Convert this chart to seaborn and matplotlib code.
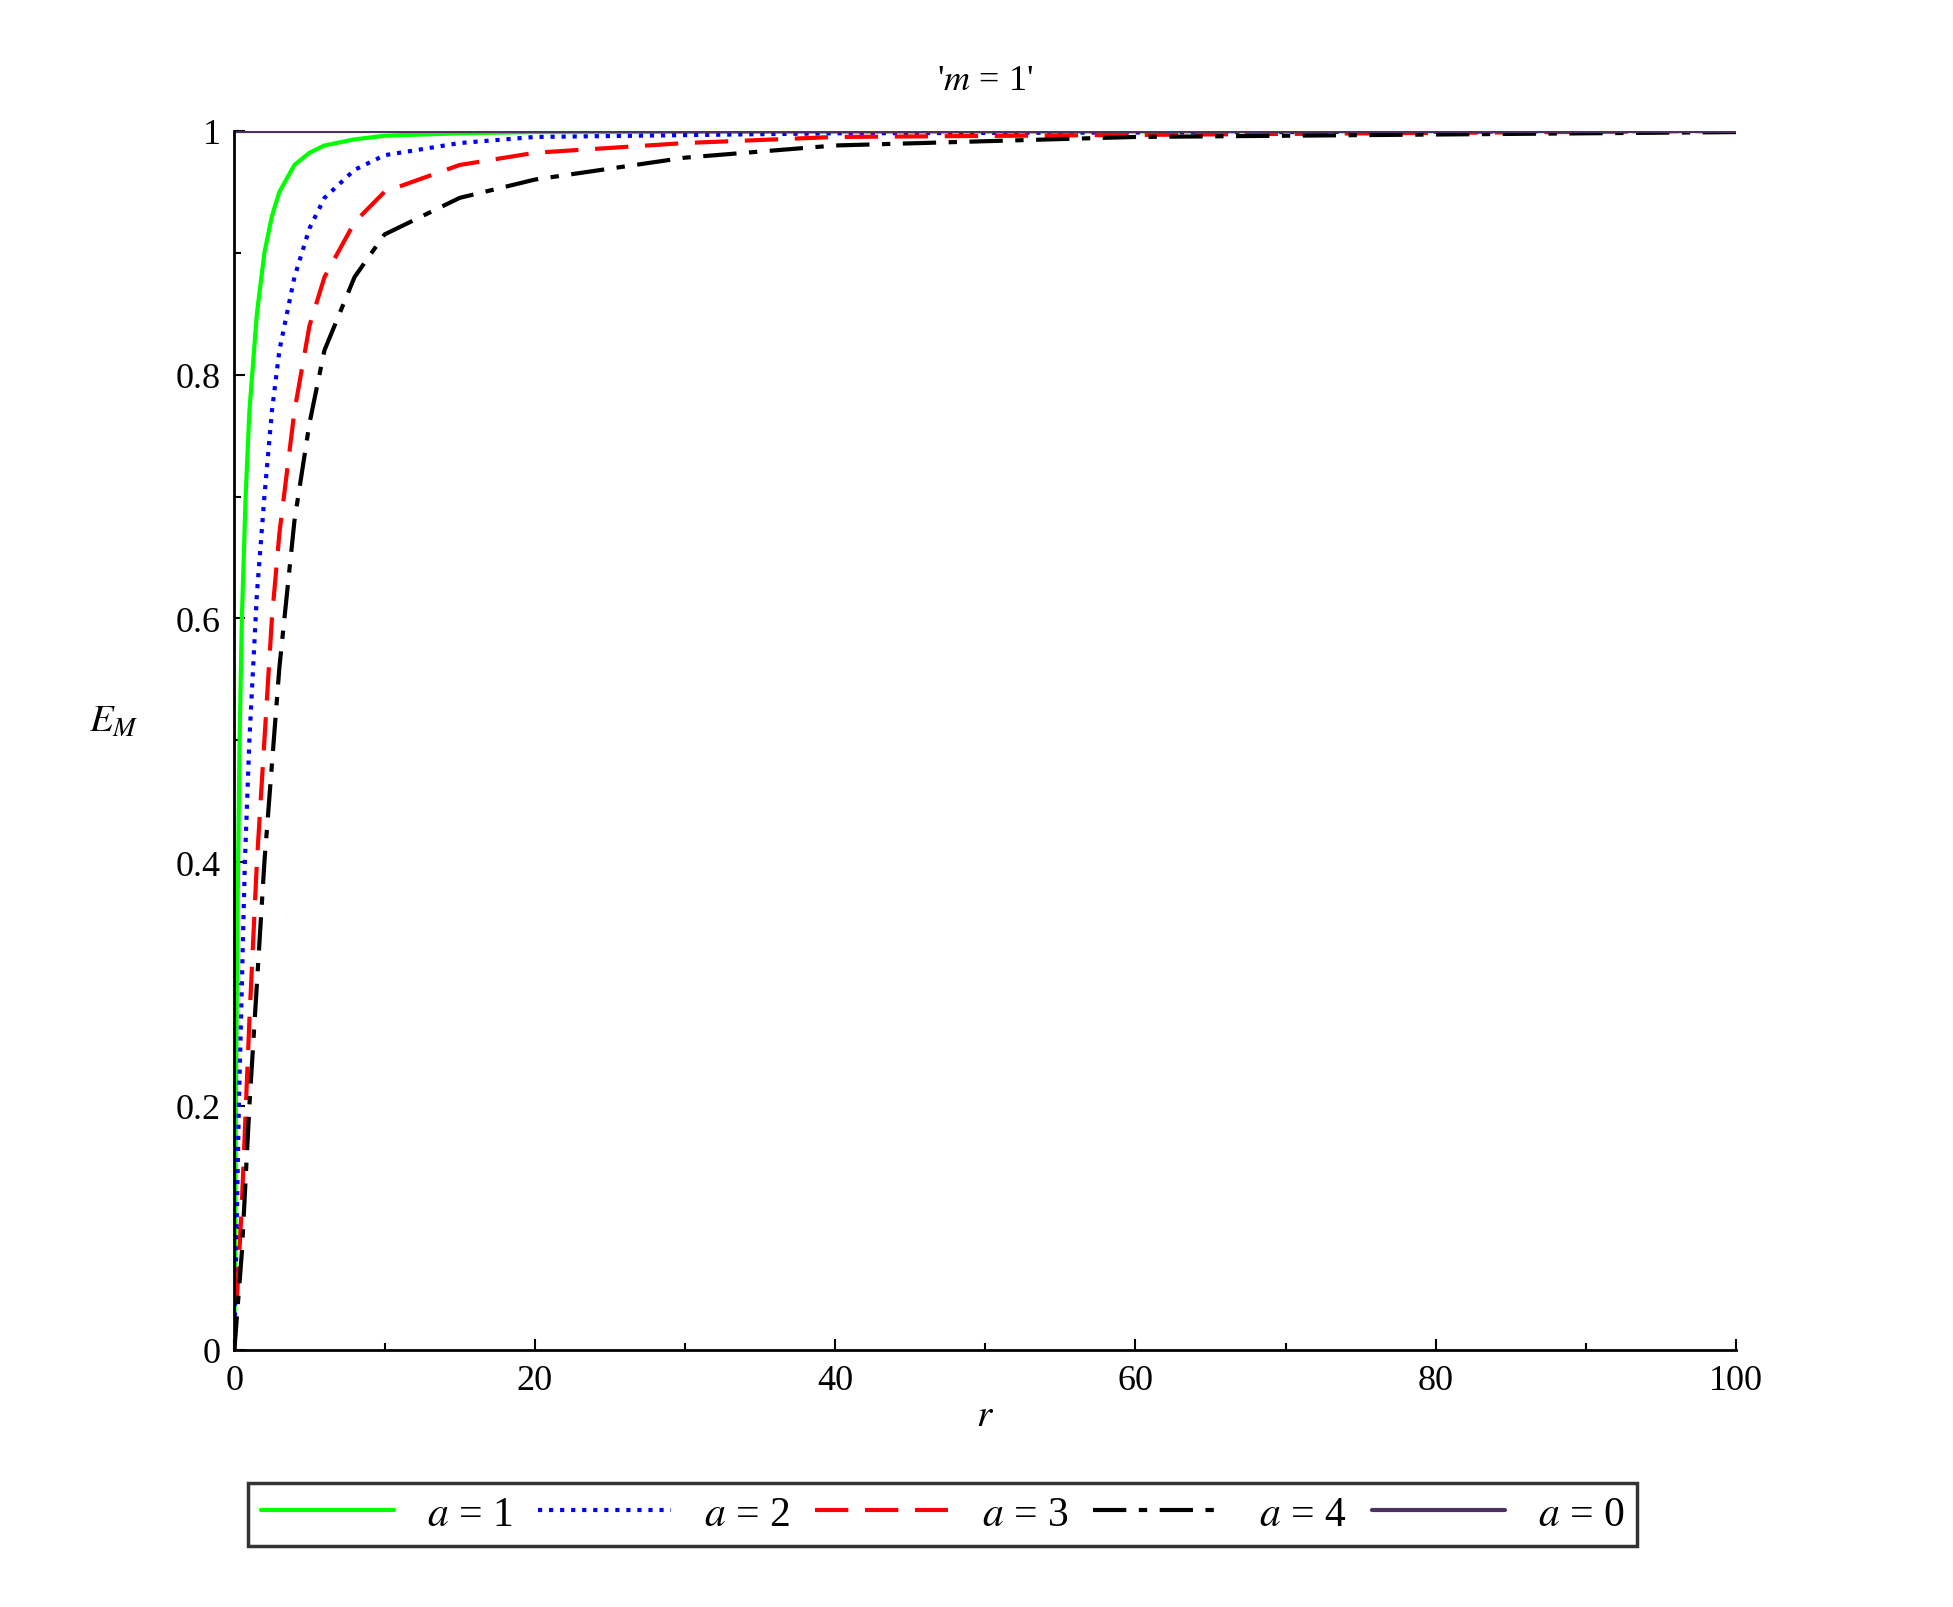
import numpy as np
import pandas as pd
import matplotlib
matplotlib.use("Agg")
import matplotlib.pyplot as plt
import seaborn as sns

# values
r_green = [0, 0.1, 0.2, 0.35, 0.5, 0.75, 1, 1.5, 2, 2.5, 3, 4, 5, 6, 8, 10, 15, 20, 100]
e_green = [0, 0.2, 0.35, 0.5, 0.6, 0.7, 0.77, 0.85, 0.9, 0.93, 0.95, 0.972, 0.982, 0.988, 0.993, 0.996, 0.998, 0.999, 1.0]
r_blue = [0, 0.3, 0.7, 1, 1.5, 2, 2.5, 3, 4, 5, 6, 8, 10, 15, 20, 40, 100]
e_blue = [0, 0.2, 0.4, 0.5, 0.62, 0.7, 0.77, 0.82, 0.88, 0.92, 0.945, 0.968, 0.98, 0.99, 0.995, 0.998, 1.0]
r_red = [0, 0.5, 1, 1.5, 2, 2.5, 3, 4, 5, 6, 8, 10, 15, 20, 30, 40, 100]
e_red = [0, 0.12, 0.27, 0.4, 0.5, 0.6, 0.67, 0.77, 0.84, 0.88, 0.925, 0.95, 0.972, 0.982, 0.99, 0.995, 1.0]
r_black = [0, 0.5, 1, 1.5, 2, 2.5, 3, 4, 5, 6, 8, 10, 15, 20, 30, 40, 60, 100]
e_black = [0, 0.08, 0.2, 0.3, 0.4, 0.48, 0.56, 0.68, 0.76, 0.82, 0.88, 0.915, 0.945, 0.96, 0.978, 0.988, 0.995, 0.999]
r_zero = [0, 100]
e_zero = [1.0, 1.0]

sns.set_style("ticks")
plt.rcParams["font.family"] = ["Liberation Serif", "DejaVu Serif"]
plt.rcParams["mathtext.fontset"] = "stix"

fig = plt.figure(figsize=(19.53, 16.08), dpi=100)
ax = fig.add_axes([0.12, 0.16, 0.769, 0.758])

series = [
    (r_green, e_green, "#00ff00", "-", "$a$ = 1"),
    (r_blue, e_blue, "#0000ff", ":", "$a$ = 2"),
    (r_red, e_red, "#ff0000", (0, (8, 4)), "$a$ = 3"),
    (r_black, e_black, "black", (0, (8, 3, 2, 3)), "$a$ = 4"),
    (r_zero, e_zero, "#4b3060", "-", "$a$ = 0"),
]
handles = []
for r, e, c, ls, lab in series:
    df = pd.DataFrame({"r": r, "E": e})
    sns.lineplot(data=df, x="r", y="E", ax=ax, color=c, linewidth=3,
                 linestyle=ls, legend=False)
    handles.append(ax.lines[-1])
    handles[-1].set_label(lab)

ax.set_xlim(0, 100)
ax.set_ylim(0, 1)
ax.set_xticks([0, 20, 40, 60, 80, 100])
ax.set_xticklabels(["0", "20", "40", "60", "80", "100"])
ax.set_xticks(np.arange(10, 100, 20), minor=True)
ax.set_yticks([0, 0.2, 0.4, 0.6, 0.8, 1])
ax.set_yticklabels(["0", "0.2", "0.4", "0.6", "0.8", "1"])
ax.set_yticks(np.arange(0.1, 1, 0.2), minor=True)
ax.tick_params(direction="in", labelsize=26, length=8, width=1.5, pad=10,
               colors="black")
ax.tick_params(which="minor", direction="in", length=5, width=1.5, colors="black")
for s in ["left", "bottom"]:
    ax.spines[s].set_linewidth(2)
    ax.spines[s].set_color("black")
sns.despine(ax=ax)

ax.set_xlabel("$r$", fontsize=28, labelpad=0, color="black")
ax.set_ylabel("$E_M$", fontsize=28, rotation=0, color="black")
ax.yaxis.set_label_coords(-0.08, 0.5)
ax.set_title("'$m$ = 1'", fontsize=26, pad=30, color="black")

leg = fig.legend(handles=handles, loc="center left", ncol=5,
                 bbox_to_anchor=(0.127, 0.0575), fontsize=30,
                 handlelength=3.2, frameon=True, fancybox=False,
                 borderaxespad=0, columnspacing=0.6, handletextpad=0.8,
                 borderpad=0.3)
leg.get_frame().set_edgecolor("black")
leg.get_frame().set_linewidth(2.5)
for t in leg.get_texts():
    t.set_color("black")

fig.savefig("out.png", dpi=100)
